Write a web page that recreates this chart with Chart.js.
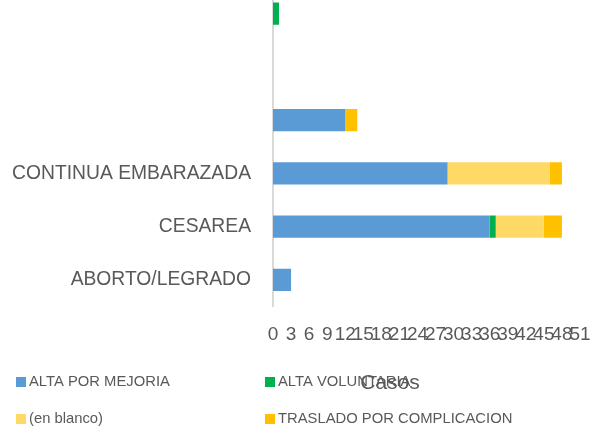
<!DOCTYPE html>
<html>
<head>
<meta charset="utf-8">
<script src="https://cdn.jsdelivr.net/npm/chart.js@4/dist/chart.umd.min.js"></script>
<style>
  html, body { margin: 0; padding: 0; background: #ffffff; overflow: hidden; }
  #wrap { position: relative; width: 598px; height: 427px; overflow: hidden; }
  #chart { position: absolute; left: 0; top: -13px; }
</style>
</head>
<body>
<div id="wrap"><canvas id="chart" width="598" height="440"></canvas></div>
<script>
// Categories, listed top to bottom
const categories = ['', ' ', '  ', 'CONTINUA EMBARAZADA', 'CESAREA', 'ABORTO/LEGRADO'];

// Number of cases per outcome
const altaPorMejoria = [0, 0, 12, 29, 36, 3];
const altaVoluntaria = [1, 0, 0, 0, 1, 0];
const enBlanco       = [0, 0, 0, 17, 8, 0];
const traslado       = [0, 0, 2, 2, 3, 0];

const seriesNames = ['ALTA POR MEJORIA', 'ALTA VOLUNTARIA', '(en blanco)', 'TRASLADO POR COMPLICACION'];
const seriesColors = ['#5B9BD5', '#00B050', '#FFD966', '#FFC000'];

// Value axis
const xMin = 0, xMax = 51, xStep = 3;
const axisTitle = 'Casos';

const FONT = '"Liberation Sans", Arial, sans-serif';
const TEXT = '#595959';

// Two-column legend with the axis title drawn over it
const legendGrid = {
  id: 'legendGrid',
  afterDraw(chart) {
    const ctx = chart.ctx;
    const cols = [16, 265];
    const rows = [395, 432];
    ctx.save();
    ctx.font = '14.8px ' + FONT;
    ctx.textBaseline = 'middle';
    ctx.textAlign = 'left';
    chart.data.datasets.forEach((ds, i) => {
      const x = cols[i % 2];
      const y = rows[Math.floor(i / 2)];
      ctx.fillStyle = ds.backgroundColor;
      ctx.fillRect(x, y - 5, 10, 10);
      ctx.fillStyle = TEXT;
      ctx.fillText(ds.label, x + 13, y);
    });
    ctx.font = '21px ' + FONT;
    ctx.textAlign = 'center';
    ctx.fillStyle = TEXT;
    ctx.fillText(axisTitle, 390, 396);
    ctx.restore();
  }
};

const datasets = [altaPorMejoria, altaVoluntaria, enBlanco, traslado].map((values, i) => ({
  label: seriesNames[i],
  data: values,
  backgroundColor: seriesColors[i],
  borderWidth: 0,
  barPercentage: 0.415,
  categoryPercentage: 1
}));

new Chart(document.getElementById('chart'), {
  type: 'bar',
  data: { labels: categories, datasets },
  plugins: [legendGrid],
  options: {
    indexAxis: 'y',
    responsive: false,
    animation: false,
    devicePixelRatio: 1,
    layout: { padding: { left: 0, right: 18, top: 0, bottom: 0 } },
    plugins: {
      legend: { display: false },
      tooltip: { enabled: false },
      title: { display: false }
    },
    scales: {
      x: {
        stacked: true,
        min: xMin,
        max: xMax,
        grid: { display: false, drawTicks: false },
        border: { display: false },
        ticks: {
          stepSize: xStep,
          autoSkip: false,
          maxRotation: 0,
          padding: 17,
          color: TEXT,
          font: { family: FONT, size: 19 }
        },
        afterFit(scale) {
          scale.height = 120.5;
          scale.paddingLeft = 0;
          scale.paddingRight = 0;
        }
      },
      y: {
        stacked: true,
        grid: { display: false, drawTicks: false },
        border: { display: true, color: '#D9D9D9', width: 2 },
        ticks: {
          padding: 22,
          autoSkip: false,
          color: TEXT,
          font: { family: FONT, size: 19.3 }
        },
        afterFit(scale) {
          scale.width = 273;
          scale.paddingTop = 0;
          scale.paddingBottom = 0;
        }
      }
    }
  }
});
</script>
</body>
</html>
